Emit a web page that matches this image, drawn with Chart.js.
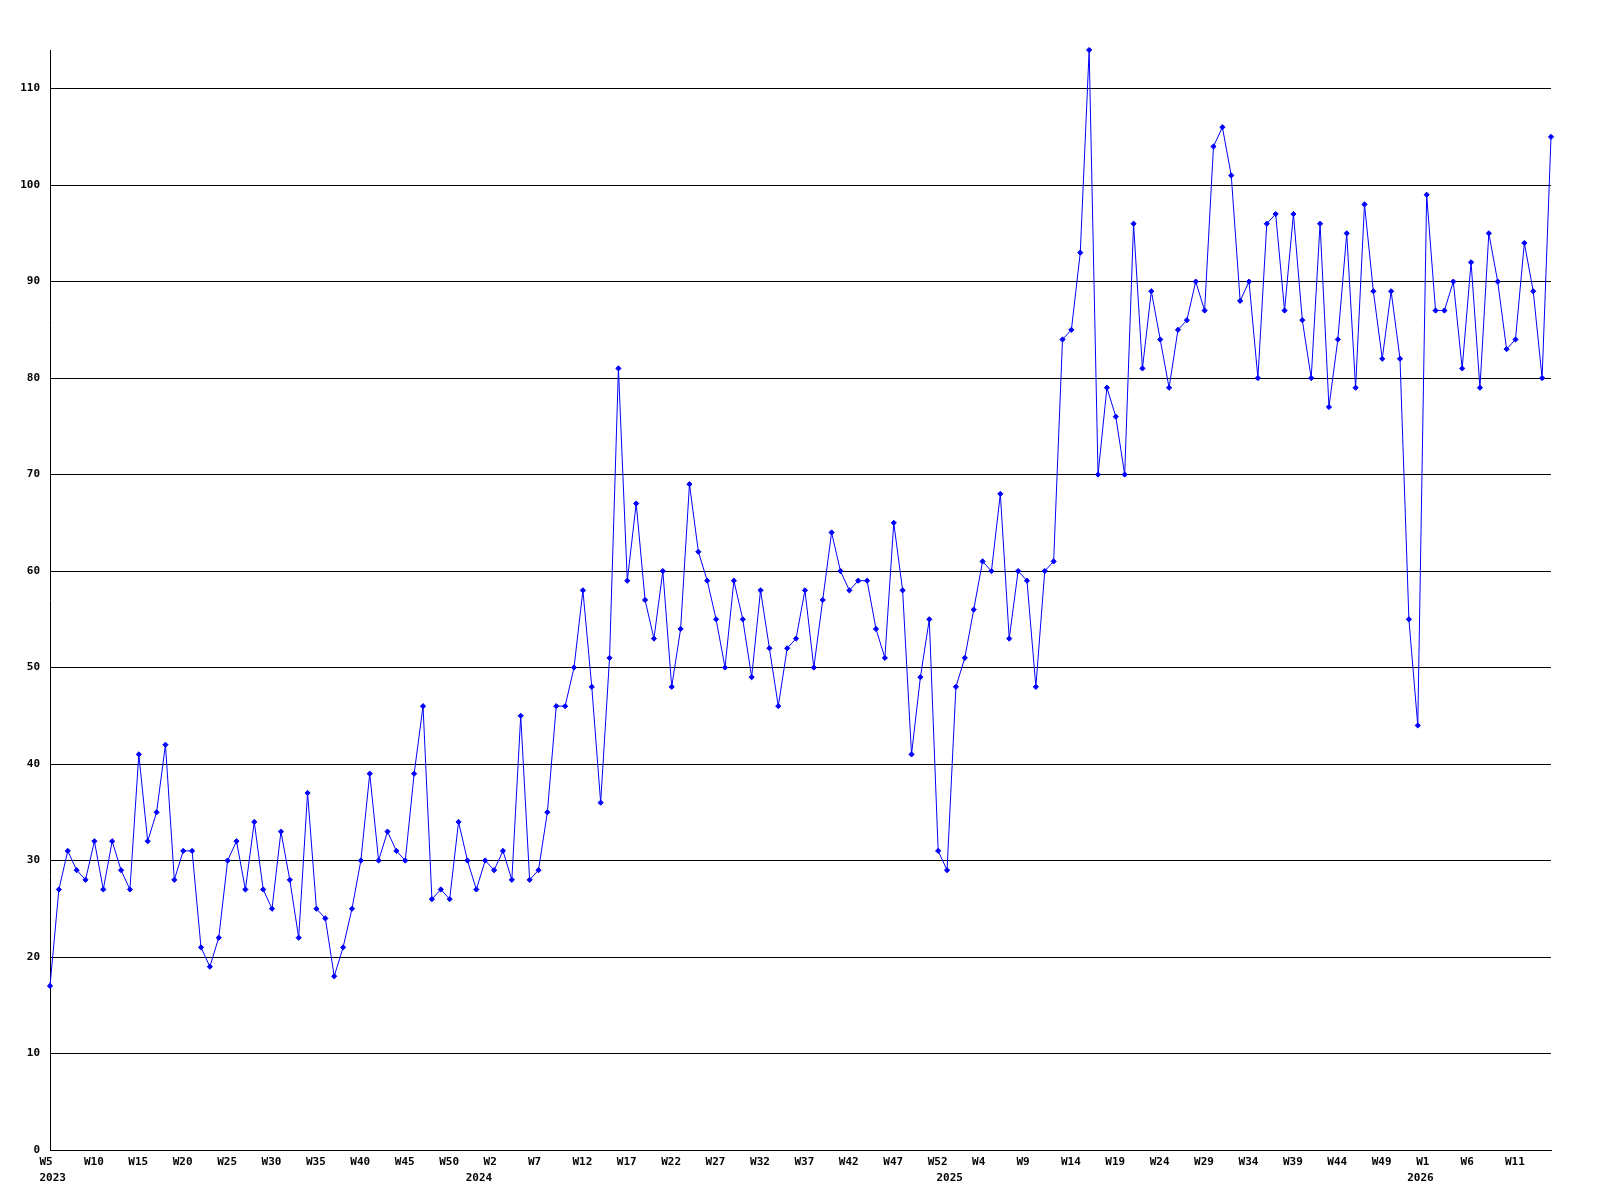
<!DOCTYPE html>
<html>
<head>
<meta charset="utf-8">
<script src="https://cdn.jsdelivr.net/npm/chart.js@4"></script>
<style>
  html, body { margin: 0; padding: 0; background: #ffffff; }
  #wrap { width: 1600px; height: 1200px; }
</style>
</head>
<body>
<div id="wrap"><canvas id="c" width="1600" height="1200"></canvas></div>
<script>
// Week ranges covered by the data: [year, firstWeek, lastWeek]
const weekRanges = [[2023, 5, 53], [2024, 1, 53], [2025, 1, 53], [2026, 1, 15]];

// Weekly values, one per week, in order
const values2023 = [17, 27, 31, 29, 28, 32, 27, 32, 29, 27, 41, 32, 35, 42, 28, 31, 31, 21, 19, 22,
  30, 32, 27, 34, 27, 25, 33, 28, 22, 37, 25, 24, 18, 21, 25, 30, 39, 30, 33, 31,
  30, 39, 46, 26, 27, 26, 34, 30, 27];
const values2024 = [30, 29, 31, 28, 45, 28, 29, 35, 46, 46, 50, 58, 48, 36, 51, 81, 59, 67, 57, 53,
  60, 48, 54, 69, 62, 59, 55, 50, 59, 55, 49, 58, 52, 46, 52, 53, 58, 50, 57, 64,
  60, 58, 59, 59, 54, 51, 65, 58, 41, 49, 55, 31, 29];
const values2025 = [48, 51, 56, 61, 60, 68, 53, 60, 59, 48, 60, 61, 84, 85, 93, 114, 70, 79, 76, 70,
  96, 81, 89, 84, 79, 85, 86, 90, 87, 104, 106, 101, 88, 90, 80, 96, 97, 87, 97, 86,
  80, 96, 77, 84, 95, 79, 98, 89, 82, 89, 82, 55, 44];
const values2026 = [99, 87, 87, 90, 81, 92, 79, 95, 90, 83, 84, 94, 89, 80, 105];

// Tick labels shown on the x axis (every 5th week)
const tickLabels = ['W5', 'W10', 'W15', 'W20', 'W25', 'W30', 'W35', 'W40', 'W45', 'W50',
  'W2', 'W7', 'W12', 'W17', 'W22', 'W27', 'W32', 'W37', 'W42', 'W47', 'W52',
  'W4', 'W9', 'W14', 'W19', 'W24', 'W29', 'W34', 'W39', 'W44', 'W49',
  'W1', 'W6', 'W11'];
// Year labels on the second line, and the week each one is anchored to
const yearLabels = ['2023', '2024', '2025', '2026'];
const yearAnchors = ['2023-W6', '2024-W1', '2025-W1', '2026-W1'];
const yTickStep = 10;
const yMax = 114;

const categories = [];
weekRanges.forEach(([y, a, b]) => { for (let w = a; w <= b; w++) categories.push(y + '-W' + w); });
const values = [].concat(values2023, values2024, values2025, values2026);

const font = { family: "'DejaVu Sans Mono', 'Liberation Mono', monospace", size: 11, weight: 'bold', lineHeight: 1.35 };

new Chart(document.getElementById('c'), {
  type: 'line',
  data: {
    labels: categories,
    datasets: [{
      data: values,
      borderColor: '#0000ff',
      backgroundColor: '#0000ff',
      borderWidth: 1,
      tension: 0,
      pointStyle: 'rectRot',
      pointRadius: 2.6,
      pointBorderWidth: 1,
      pointBackgroundColor: '#0000ff',
      pointBorderColor: '#0000ff',
      clip: 6
    }]
  },
  options: {
    responsive: false,
    devicePixelRatio: 1,
    animation: false,
    events: [],
    layout: { padding: { left: 0, top: 50, right: 49, bottom: 0 } },
    plugins: { legend: { display: false }, tooltip: { enabled: false } },
    scales: {
      x: {
        type: 'category',
        position: 'bottom',
        weight: 0,
        offset: false,
        grid: { display: false, drawTicks: false },
        border: { display: true, color: '#000000', width: 1 },
        ticks: {
          autoSkip: false,
          maxRotation: 0,
          minRotation: 0,
          align: 'start',
          labelOffset: -10.5,
          padding: 5,
          color: '#000000',
          font: font,
          callback: function (v, i) {
            if (i % 5 !== 0) return null;
            const t = tickLabels[i / 5];
            return t === undefined ? null : t;
          }
        },
        afterFit: function (s) { s.height = 18; }
      },
      x2: {
        type: 'category',
        position: 'bottom',
        weight: 1,
        offset: false,
        grid: { display: false, drawTicks: false },
        border: { display: false },
        ticks: {
          autoSkip: false,
          maxRotation: 0,
          minRotation: 0,
          align: 'start',
          labelOffset: -19.5,
          padding: 3,
          color: '#000000',
          font: font,
          callback: function (v, i) {
            const k = yearAnchors.indexOf(categories[i]);
            return k < 0 ? null : yearLabels[k];
          }
        },
        afterFit: function (s) { s.height = 32; }
      },
      y: {
        min: 0,
        max: yMax,
        grid: { display: true, color: '#000000', lineWidth: 1, drawTicks: false },
        border: { display: true, color: '#000000', width: 1 },
        ticks: {
          stepSize: yTickStep,
          padding: 10,
          color: '#000000',
          font: font
        },
        afterBuildTicks: function (s) {
          s.ticks = s.ticks.filter(t => t.value % yTickStep === 0);
        },
        afterFit: function (s) { s.width = 50; }
      }
    }
  }
});
</script>
</body>
</html>
